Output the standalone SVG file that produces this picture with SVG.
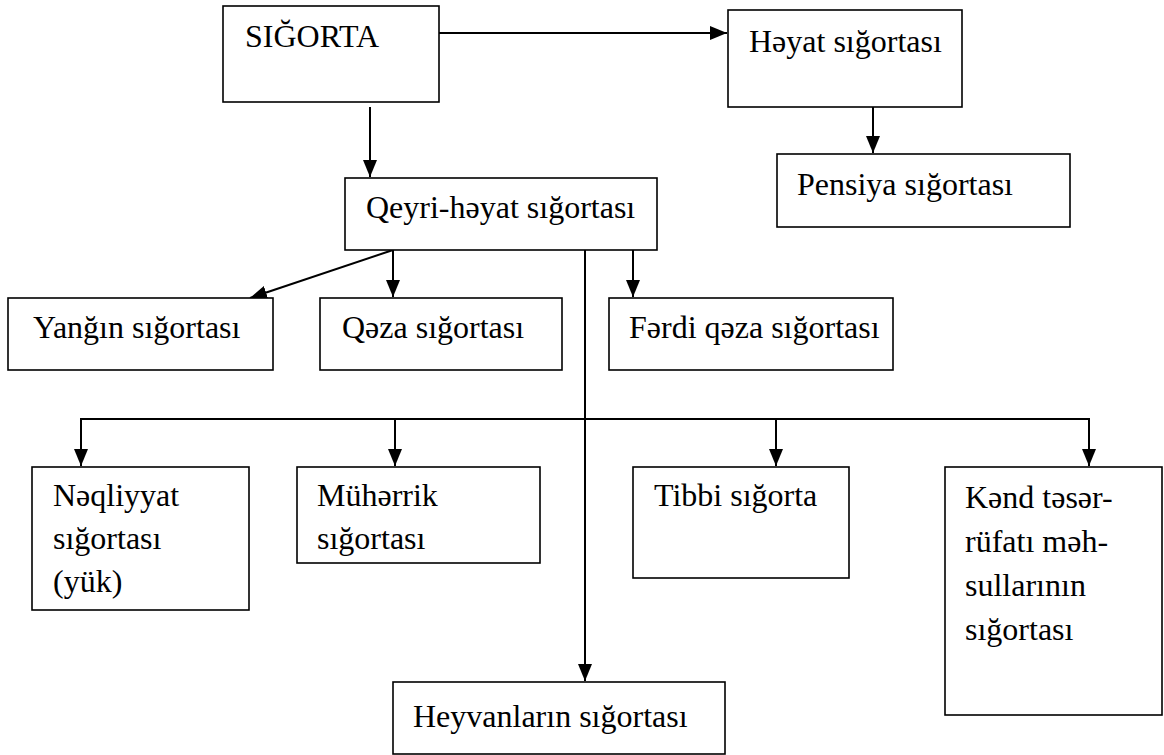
<svg xmlns="http://www.w3.org/2000/svg" width="1164" height="755" viewBox="0 0 1164 755">
<style>
.box{fill:#fff;stroke:#000;stroke-width:1.6}
text{font-family:'Liberation Serif','Times New Roman',Tinos,'DejaVu Serif','Noto Serif',serif;font-size:32px;fill:#000}
.c{fill:none;stroke:#000;stroke-width:2}
</style>
<defs>
<marker id="ah" markerUnits="userSpaceOnUse" markerWidth="18" markerHeight="16" refX="17" refY="7" orient="auto">
<path d="M0,0 L17,7 L0,14 z" fill="#000"/>
</marker>
</defs>
<rect width="1164" height="755" fill="#fff"/>
<g id="connectors">
<line class="c" x1="439" y1="33" x2="727" y2="33" marker-end="url(#ah)"/>
<line class="c" x1="873" y1="107" x2="873" y2="153" marker-end="url(#ah)"/>
<line class="c" x1="370" y1="107" x2="370" y2="177" marker-end="url(#ah)"/>
<line class="c" x1="393" y1="250" x2="250" y2="298" marker-end="url(#ah)"/>
<line class="c" x1="393" y1="250" x2="393" y2="297" marker-end="url(#ah)"/>
<line class="c" x1="633" y1="250" x2="633" y2="297" marker-end="url(#ah)"/>
<line class="c" x1="585" y1="250" x2="585" y2="681" marker-end="url(#ah)"/>
<line class="c" x1="81" y1="419" x2="1089" y2="419"/>
<line class="c" x1="81" y1="418" x2="81" y2="466" marker-end="url(#ah)"/>
<line class="c" x1="395" y1="419" x2="395" y2="466" marker-end="url(#ah)"/>
<line class="c" x1="776" y1="419" x2="776" y2="466" marker-end="url(#ah)"/>
<line class="c" x1="1089" y1="418" x2="1089" y2="466" marker-end="url(#ah)"/>
</g>
<g id="sigorta"><rect class="box" x="223" y="6" width="216" height="96"/><text x="245" y="47">SIĞORTA</text></g>
<g id="heyat"><rect class="box" x="728" y="10" width="234" height="97"/><text x="749" y="52">Həyat sığortası</text></g>
<g id="pensiya"><rect class="box" x="777" y="154" width="293" height="73"/><text x="797" y="195">Pensiya sığortası</text></g>
<g id="qeyri"><rect class="box" x="345" y="178" width="312" height="72"/><text x="366" y="218">Qeyri-həyat sığortası</text></g>
<g id="yangin"><rect class="box" x="8" y="298" width="265" height="72"/><text x="33" y="338">Yanğın sığortası</text></g>
<g id="qeza"><rect class="box" x="320" y="298" width="242" height="72"/><text x="342" y="338">Qəza sığortası</text></g>
<g id="ferdi"><rect class="box" x="609" y="298" width="284" height="72"/><text x="629" y="338">Fərdi qəza sığortası</text></g>
<g id="neqliyyat"><rect class="box" x="32" y="467" width="217" height="143"/><text x="53" y="506">Nəqliyyat</text><text x="53" y="549">sığortası</text><text x="53" y="592">(yük)</text></g>
<g id="muherrik"><rect class="box" x="297" y="467" width="243" height="96"/><text x="317" y="506">Mühərrik</text><text x="317" y="549">sığortası</text></g>
<g id="tibbi"><rect class="box" x="633" y="467" width="216" height="111"/><text x="654" y="506">Tibbi sığorta</text></g>
<g id="kend"><rect class="box" x="945" y="467" width="217" height="248"/><text x="965" y="508">Kənd təsər-</text><text x="965" y="552">rüfatı məh-</text><text x="965" y="596">sullarının</text><text x="965" y="640">sığortası</text></g>
<g id="heyvan"><rect class="box" x="393" y="682" width="332" height="72"/><text x="413" y="727">Heyvanların sığortası</text></g>
</svg>
